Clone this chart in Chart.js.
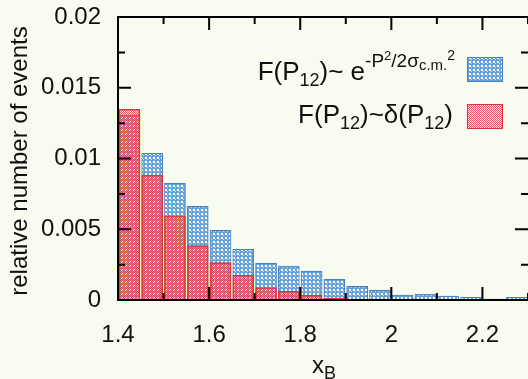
<!DOCTYPE html>
<html>
<head>
<meta charset="utf-8">
<script src="https://cdn.jsdelivr.net/npm/chart.js@4.4.1/dist/chart.umd.min.js"></script>
<style>
  html, body { margin: 0; padding: 0; background: #f8fbef; }
  #wrap { width: 528px; height: 379px; position: relative; }
</style>
</head>
<body>
<div id="wrap"><canvas id="chart"></canvas></div>
<script>
// bin centres of x_B (bins of 0.05)
const binCenters = [1.425, 1.475, 1.525, 1.575, 1.625, 1.675, 1.725, 1.775, 1.825,
  1.875, 1.925, 1.975, 2.025, 2.075, 2.125, 2.175, 2.225, 2.275];
// F(P12) ~ gaussian
const gaussValues = [0.01307, 0.01037, 0.00825, 0.00662, 0.00493, 0.00358, 0.00259, 0.00240, 0.00204,
  0.00146, 0.00097, 0.00069, 0.00035, 0.00042, 0.00028, 0.00019, 0.00007, 0.00019];
// F(P12) ~ delta
const deltaValues = [0.01348, 0.00883, 0.00594, 0.00384, 0.00264, 0.00175, 0.00087, 0.00061, 0.00033,
  0.00012, 0.00002, 0, 0, 0, 0, 0, 0, 0];

const xMajorTicks = [1.4, 1.6, 1.8, 2.0, 2.2];
const xMinorTicks = [1.5, 1.7, 1.9, 2.1, 2.3];
const xTickLabels = ["1.4", "1.6", "1.8", "2", "2.2"];
const yMajorTicks = [0, 0.005, 0.01, 0.015, 0.02];
const yMinorTicks = [0.0025, 0.0075, 0.0125, 0.0175];
const yTickLabels = ["0", "0.005", "0.01", "0.015", "0.02"];

const FONT = "'Liberation Sans', Arial, sans-serif";

function makePattern(cells, size) {
  let c = document.createElement('canvas');
  c.width = size; c.height = size;
  let g = c.getContext('2d');
  cells.forEach(function (p) {
    g.fillStyle = p[2];
    g.fillRect(p[0], p[1], 1, 1);
  });
  return g.createPattern(c, 'repeat');
}

// blue crosshatch with white holes
const blueCells = [];
for (let i = 0; i < 4; i++) {
  for (let j = 0; j < 4; j++) {
    let col = 'rgb(104,162,214)';
    if ((i == 1 || i == 2) && (j == 1 || j == 2)) col = '#ffffff';
    else if (i == 3 && j == 3) col = 'rgb(190,214,238)';
    blueCells.push([i, j, col]);
  }
}
// red fine hatch, holes transparent so the blue shows through
const redCells = [
  [0, 0, 'rgba(222,66,76,0.85)'], [1, 1, 'rgba(222,66,76,0.85)'],
  [1, 0, 'rgba(240,120,125,0.15)'], [0, 1, 'rgba(240,120,125,0.15)']
];
const bluePattern = makePattern(blueCells, 4);
const redPattern = makePattern(redCells, 2);

// text made of pieces: [text, size, baseline y]
function drawRich(ctx, pieces, xRight) {
  let total = 0;
  pieces.forEach(function (p) {
    ctx.font = p[1] + 'px ' + FONT;
    total += ctx.measureText(p[0]).width;
  });
  let x = xRight - total;
  ctx.textAlign = 'left';
  ctx.textBaseline = 'alphabetic';
  pieces.forEach(function (p) {
    ctx.font = p[1] + 'px ' + FONT;
    ctx.fillText(p[0], x, p[2]);
    x += ctx.measureText(p[0]).width;
  });
}

const framePlugin = {
  id: 'frame',
  beforeDraw(chart) {
    let ctx = chart.ctx;
    ctx.save();
    ctx.fillStyle = '#f8fbef';
    ctx.fillRect(0, 0, chart.width, chart.height);
    ctx.restore();
  },
  afterDatasetsDraw(chart) {
    let ctx = chart.ctx;
    let a = chart.chartArea;
    let xs = chart.scales.x, ys = chart.scales.y;
    ctx.save();
    ctx.strokeStyle = '#000';
    ctx.lineWidth = 2;
    // right edge of the frame falls just outside the picture
    ctx.strokeRect(a.left, a.top, a.right + 2 - a.left, a.bottom - a.top);
    ctx.beginPath();
    function xt(v, len) {
      let px = xs.getPixelForValue(v);
      ctx.moveTo(px, a.bottom); ctx.lineTo(px, a.bottom - len);
      ctx.moveTo(px, a.top); ctx.lineTo(px, a.top + len);
    }
    function yt(v, len) {
      let py = ys.getPixelForValue(v);
      ctx.moveTo(a.left, py); ctx.lineTo(a.left + len, py);
      ctx.moveTo(a.right, py); ctx.lineTo(a.right - len, py);
    }
    xMajorTicks.forEach(v => xt(v, 13));
    xMinorTicks.forEach(v => xt(v, 7));
    yMajorTicks.forEach(v => yt(v, 13));
    yMinorTicks.forEach(v => yt(v, 7));
    ctx.stroke();
    ctx.restore();
  },
  afterDraw(chart) {
    let ctx = chart.ctx;
    ctx.save();
    ctx.fillStyle = '#111';
    // y title
    ctx.save();
    ctx.translate(27, 161);
    ctx.rotate(-Math.PI / 2);
    ctx.font = '24px ' + FONT;
    ctx.textAlign = 'center';
    ctx.textBaseline = 'alphabetic';
    ctx.fillText('relative number of events', 0, 0);
    ctx.restore();
    // x title
    drawRich(ctx, [['x', 24, 373], ['B', 18, 379]], 336);

    // legend
    drawRich(ctx, [['F(P', 26, 80], ['12', 18, 86], [')~ e', 26, 80], ['-P', 19, 67],
      ['2', 13, 60], ['/2\u03c3', 19, 67], ['c.m.', 15, 70], ['2', 14, 60]], 455);
    drawRich(ctx, [['F(P', 26, 123], ['12', 18, 129], [')~\u03b4(P', 26, 123], ['12', 18, 129],
      [')', 26, 123]], 453);
    ctx.fillStyle = bluePattern;
    ctx.fillRect(467, 57, 35, 24);
    ctx.strokeStyle = 'rgb(70,128,186)';
    ctx.lineWidth = 1;
    ctx.strokeRect(467.5, 57.5, 35, 24);
    ctx.fillStyle = redPattern;
    ctx.fillRect(467, 104, 35, 24);
    ctx.strokeStyle = 'rgb(215,55,60)';
    ctx.strokeRect(467.5, 104.5, 35, 24);
    ctx.restore();
  }
};

new Chart(document.getElementById('chart'), {
  type: 'bar',
  data: {
    datasets: [
      {
        label: 'gauss',
        data: binCenters.map((x, i) => ({ x: x, y: gaussValues[i] })),
        backgroundColor: bluePattern,
        borderColor: 'rgb(70,128,186)',
        borderWidth: 1,
        barThickness: 21,
        grouped: false,
        order: 2
      },
      {
        label: 'delta',
        data: binCenters.map((x, i) => ({ x: x, y: deltaValues[i] })),
        backgroundColor: redPattern,
        borderColor: 'rgb(215,55,60)',
        borderWidth: 1,
        barThickness: 21,
        grouped: false,
        order: 1
      }
    ]
  },
  options: {
    responsive: true,
    maintainAspectRatio: false,
    animation: false,
    layout: { padding: { top: 17, right: 0, left: 0, bottom: 0 } },
    plugins: { legend: { display: false }, tooltip: { enabled: false } },
    scales: {
      x: {
        type: 'linear',
        offset: false,
        min: 1.4,
        max: 2.3,
        grid: { display: false, drawTicks: false, offset: false },
        border: { display: false },
        afterBuildTicks: s => { s.ticks = xMajorTicks.map(v => ({ value: v })); },
        afterFit: s => { s.height = 79; s.paddingLeft = 0; s.paddingRight = 0; },
        ticks: {
          padding: 21,
          color: '#111',
          font: { family: FONT, size: 24 },
          maxRotation: 0,
          callback: (v, i) => xTickLabels[i]
        }
      },
      y: {
        min: 0,
        max: 0.02,
        grid: { display: false, drawTicks: false },
        border: { display: false },
        afterBuildTicks: s => { s.ticks = yMajorTicks.map(v => ({ value: v })); },
        afterFit: s => { s.width = 118; s.paddingTop = 0; s.paddingBottom = 0; },
        ticks: {
          padding: 17,
          color: '#111',
          font: { family: FONT, size: 24 },
          callback: (v, i) => yTickLabels[i]
        }
      }
    }
  },
  plugins: [framePlugin]
});
</script>
</body>
</html>
